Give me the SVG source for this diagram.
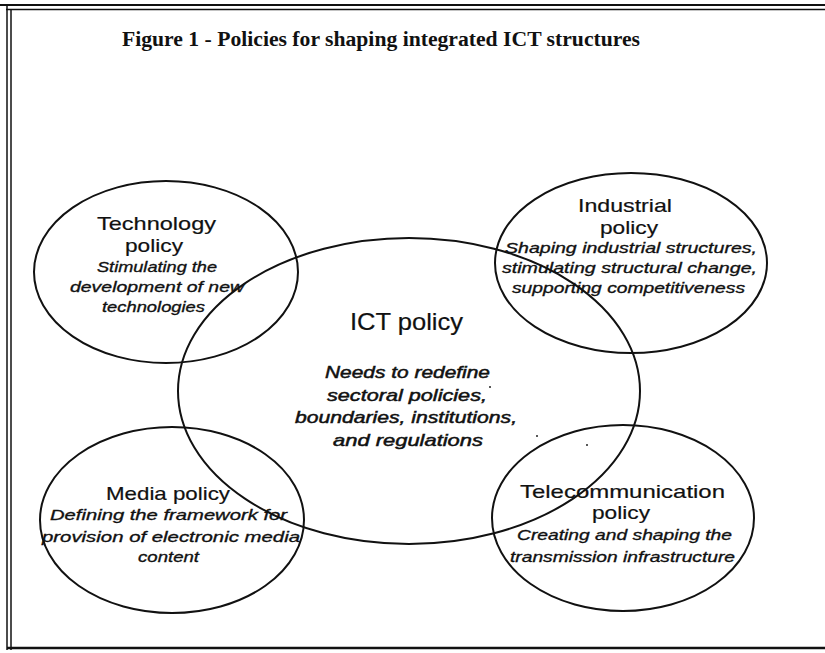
<svg xmlns="http://www.w3.org/2000/svg" width="825" height="653" viewBox="0 0 825 653">
  <style>
    .frame { stroke: #111; fill: none; }
    .oval { fill: none; stroke: #111; stroke-width: 2; }
    .caption { font-family: "Liberation Serif", "Times New Roman", serif; font-weight: bold; font-size: 20px; fill: #111; }
    .head { font-family: "Liberation Sans", Arial, sans-serif; font-size: 19px; fill: #111; stroke: #111; stroke-width: 0.2; }
    .core { font-family: "Liberation Sans", Arial, sans-serif; font-size: 24px; fill: #111; stroke: #111; stroke-width: 0.2; }
    .note { font-family: "Liberation Sans", Arial, sans-serif; font-style: italic; font-size: 15.5px; fill: #111; stroke: #111; stroke-width: 0.35; }
    .core-note { font-family: "Liberation Sans", Arial, sans-serif; font-style: italic; font-size: 17px; fill: #111; stroke: #111; stroke-width: 0.5; }
    .speck { fill: #222; }
  </style>

  <rect width="825" height="653" fill="#fff"/>

  <!-- page frame -->
  <g id="frame">
    <line class="frame" x1="0" y1="5" x2="825" y2="5" stroke-width="2"/>
    <line class="frame" x1="6" y1="9.5" x2="825" y2="9.5" stroke-width="1.5"/>
    <line class="frame" x1="7" y1="5" x2="7" y2="650" stroke-width="1.5"/>
    <line class="frame" x1="11" y1="9.5" x2="11" y2="650" stroke-width="1.5"/>
    <line class="frame" x1="7" y1="648" x2="825" y2="648" stroke-width="2.5"/>
  </g>

  <text class="caption" x="122" y="46" textLength="518" lengthAdjust="spacingAndGlyphs">Figure 1 - Policies for shaping integrated ICT structures</text>

  <!-- central policy area -->
  <g id="ict">
    <ellipse class="oval" cx="409" cy="391" rx="231" ry="153"/>
    <text class="core" x="350" y="330" textLength="113" lengthAdjust="spacingAndGlyphs">ICT policy</text>
    <text class="core-note" x="325" y="378" textLength="165" lengthAdjust="spacingAndGlyphs">Needs to redefine</text>
    <text class="core-note" x="327" y="401" textLength="160" lengthAdjust="spacingAndGlyphs">sectoral policies,</text>
    <text class="core-note" x="295" y="423" textLength="222" lengthAdjust="spacingAndGlyphs">boundaries, institutions,</text>
    <text class="core-note" x="333" y="446" textLength="150" lengthAdjust="spacingAndGlyphs">and regulations</text>
  </g>

  <g id="technology">
    <ellipse class="oval" cx="166" cy="272" rx="132" ry="91"/>
    <text class="head" x="97" y="230" textLength="119" lengthAdjust="spacingAndGlyphs">Technology</text>
    <text class="head" x="125" y="252" textLength="58" lengthAdjust="spacingAndGlyphs">policy</text>
    <text class="note" x="97" y="272" textLength="120" lengthAdjust="spacingAndGlyphs">Stimulating the</text>
    <text class="note" x="70" y="292" textLength="174" lengthAdjust="spacingAndGlyphs">development of new</text>
    <text class="note" x="102" y="312" textLength="103" lengthAdjust="spacingAndGlyphs">technologies</text>
  </g>

  <g id="industrial">
    <ellipse class="oval" cx="631" cy="263" rx="136" ry="90"/>
    <text class="head" x="578" y="212" textLength="94" lengthAdjust="spacingAndGlyphs">Industrial</text>
    <text class="head" x="600" y="234" textLength="58" lengthAdjust="spacingAndGlyphs">policy</text>
    <text class="note" x="505" y="253" textLength="252" lengthAdjust="spacingAndGlyphs">Shaping industrial structures,</text>
    <text class="note" x="502" y="273" textLength="255" lengthAdjust="spacingAndGlyphs">stimulating structural change,</text>
    <text class="note" x="512" y="293" textLength="233" lengthAdjust="spacingAndGlyphs">supporting competitiveness</text>
  </g>

  <g id="media">
    <ellipse class="oval" cx="172" cy="520" rx="132" ry="93"/>
    <text class="head" x="106" y="500" textLength="124" lengthAdjust="spacingAndGlyphs">Media policy</text>
    <text class="note" x="50" y="520" textLength="237" lengthAdjust="spacingAndGlyphs">Defining the framework for</text>
    <text class="note" x="42" y="542" textLength="258" lengthAdjust="spacingAndGlyphs">provision of electronic media</text>
    <text class="note" x="138" y="562" textLength="61" lengthAdjust="spacingAndGlyphs">content</text>
  </g>

  <g id="telecommunication">
    <ellipse class="oval" cx="623" cy="518" rx="131" ry="93"/>
    <text class="head" x="520" y="498" textLength="205" lengthAdjust="spacingAndGlyphs">Telecommunication</text>
    <text class="head" x="592" y="519" textLength="58" lengthAdjust="spacingAndGlyphs">policy</text>
    <text class="note" x="517" y="540" textLength="215" lengthAdjust="spacingAndGlyphs">Creating and shaping the</text>
    <text class="note" x="510" y="562" textLength="225" lengthAdjust="spacingAndGlyphs">transmission infrastructure</text>
  </g>

  <!-- stray print specks -->
  <g id="specks">
    <circle class="speck" cx="490" cy="387" r="1"/>
    <circle class="speck" cx="537" cy="436" r="1"/>
    <circle class="speck" cx="587" cy="445" r="1"/>
  </g>
</svg>
